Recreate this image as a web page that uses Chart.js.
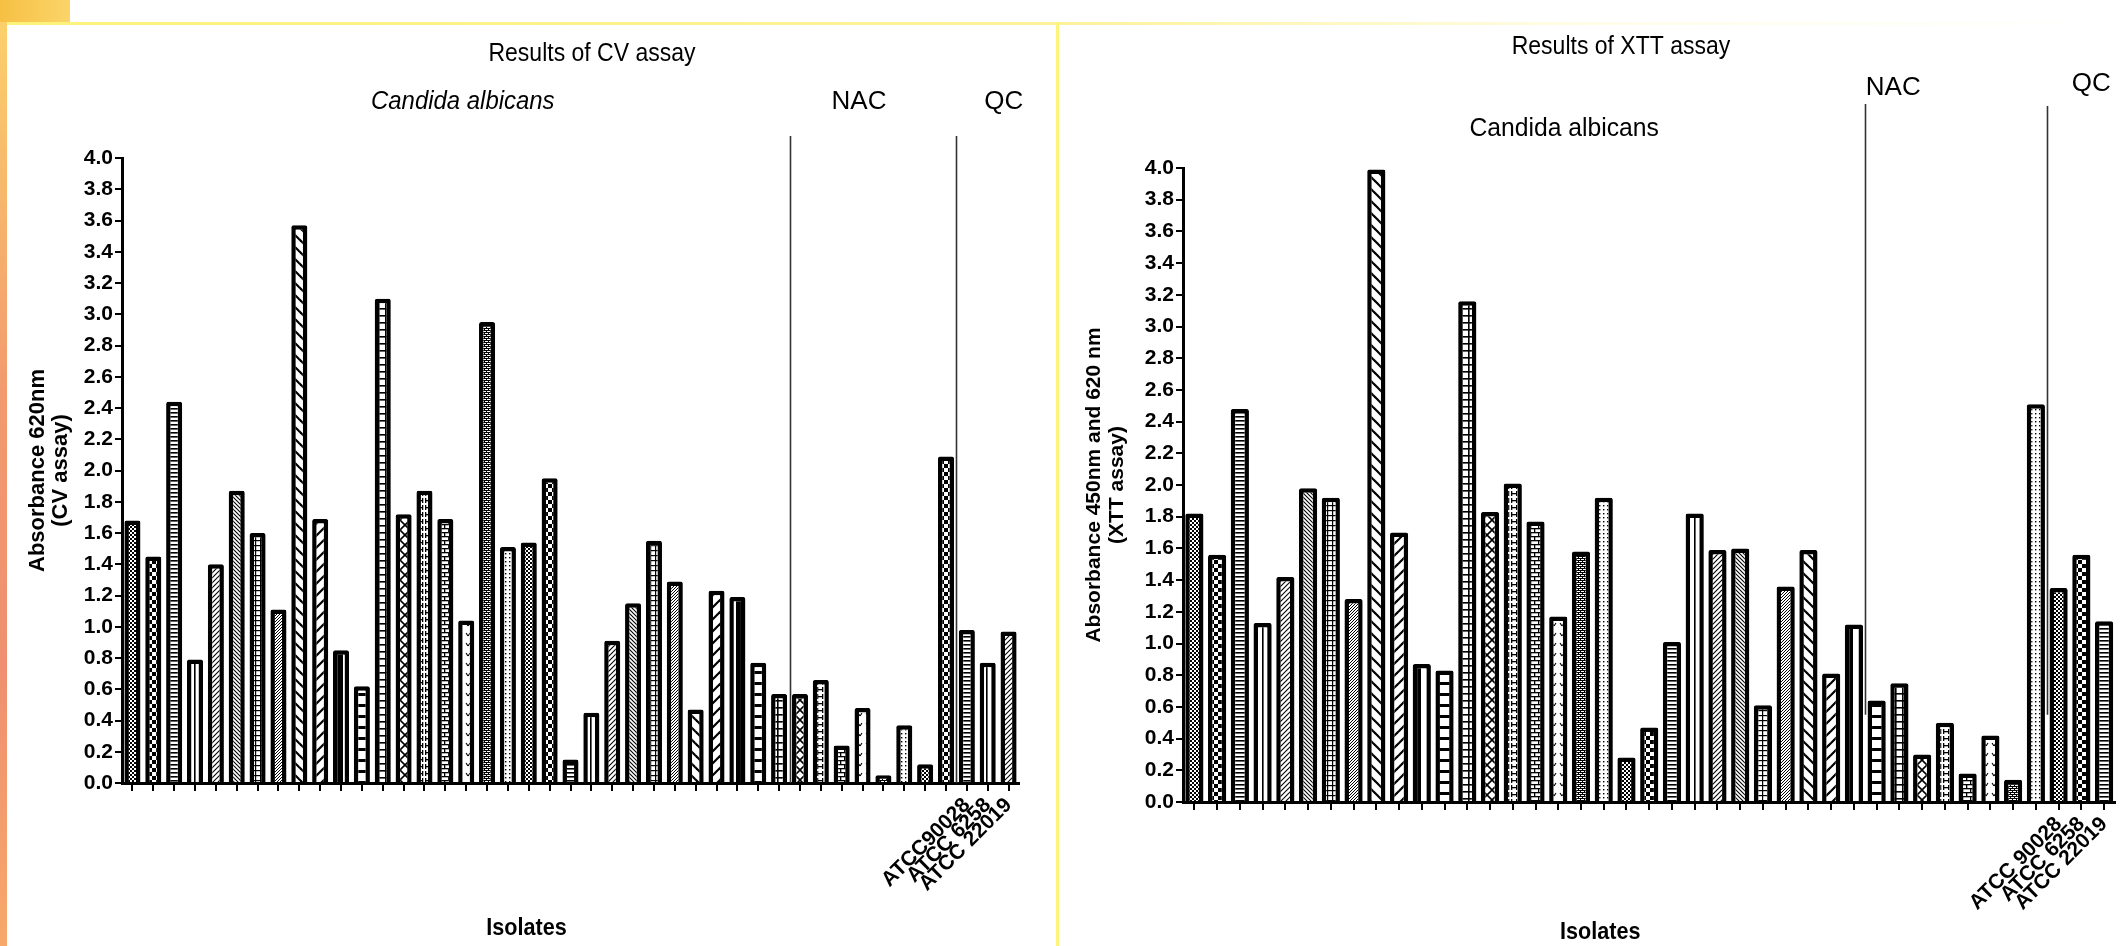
<!DOCTYPE html>
<html><head><meta charset="utf-8">
<script src="https://cdn.jsdelivr.net/npm/chart.js@4.4.1/dist/chart.umd.min.js"></script>
<style>
html,body{margin:0;padding:0;background:#fff;width:2124px;height:946px;overflow:hidden;}
#cvWrap{position:absolute;left:0;top:0;width:1056px;height:946px;}
#xttWrap{position:absolute;left:1062px;top:0;width:1062px;height:946px;}
.deco{position:absolute;}
</style></head><body>
<div class="deco" style="left:0;top:0;width:70px;height:23px;background:linear-gradient(90deg,#f6c043,#fbd46a);"></div>
<div class="deco" style="left:0;top:22px;width:2124px;height:3px;background:linear-gradient(90deg,#fff27a,#fdf29a 50%,#fffde8 75%,#fff);"></div>
<div class="deco" style="left:0;top:22px;width:7px;height:924px;background:linear-gradient(180deg,#fbd06a,#f29a6e 40%,#ef8f70 70%,#f7a86a);"></div>
<div class="deco" style="left:1056px;top:22px;width:3px;height:924px;background:#fdf47c;"></div>
<div id="cvWrap"><canvas id="cv"></canvas></div>
<div id="xttWrap"><canvas id="xtt"></canvas></div>
<script>
// ---------------- DATA ----------------
const cvCandida = [1.68,1.45,2.44,0.79,1.40,1.87,1.60,1.11,3.57,1.69,0.85,0.62,3.10,1.72,1.87,1.69,1.04,2.95,1.51,1.54,1.95,0.15,0.45,0.91,1.15,1.55,1.29,0.47,1.23,1.19,0.77,0.57];
const cvNAC = [0.57,0.66,0.24,0.48,0.05,0.37,0.12,2.09];
const cvQC = [0.98,0.77,0.97];
const cvQCLabels = ['ATCC90028','ATCC 6258','ATCC 22019'];

const xttCandida = [1.82,1.56,2.48,1.13,1.42,1.98,1.92,1.28,3.99,1.70,0.87,0.83,3.16,1.83,2.01,1.77,1.17,1.58,1.92,0.28,0.47,1.01,1.82,1.59,1.60,0.61,1.36,1.59,0.81,1.12];
const xttNAC = [0.64,0.75,0.30,0.50,0.18,0.42,0.14,2.51];
const xttQC = [1.35,1.56,1.14];
const xttQCLabels = ['ATCC 90028','ATCC 6258','ATCC 22019'];

const yTicks = ['0.0','0.2','0.4','0.6','0.8','1.0','1.2','1.4','1.6','1.8','2.0','2.2','2.4','2.6','2.8','3.0','3.2','3.4','3.6','3.8','4.0'];
const groupNames = ['Candida albicans','NAC','QC'];

// ---------------- PATTERNS ----------------
const SANS = '"Liberation Sans",Arial,sans-serif';

function tile(w,h,draw){
  const c=document.createElement('canvas'); c.width=w; c.height=h;
  const g=c.getContext('2d'); g.fillStyle='#fff'; g.fillRect(0,0,w,h);
  g.fillStyle='#000'; g.strokeStyle='#000'; draw(g,w,h); return c;
}
function line(g,x1,y1,x2,y2,lw){g.lineWidth=lw;g.beginPath();g.moveTo(x1,y1);g.lineTo(x2,y2);g.stroke();}
const patternTiles = [
  ()=>tile(4,4,g=>{g.fillRect(0,0,2,2);g.fillRect(2,2,2,2);}),                 // fine checker
  ()=>tile(8,8,g=>{g.fillRect(0,0,4,4);g.fillRect(4,4,4,4);}),                 // large checker
  ()=>tile(4,4,g=>{g.fillRect(0,0,4,1.6);}),                                   // horizontal lines
  ()=>tile(6,4,g=>{g.fillRect(2,0,1.6,4);}),                                   // vertical lines
  ()=>tile(5,5,g=>{line(g,-1,6,6,-1,1.1);line(g,-1,1,1,-1,1.1);line(g,4,6,6,4,1.1);}), // fine /
  ()=>tile(4,4,g=>{line(g,-1,-1,5,5,1.1);line(g,3,-1,5,1,1.1);line(g,-1,3,1,5,1.1);}), // fine \
  ()=>tile(5,5,g=>{g.fillRect(0,0,5,1.2);g.fillRect(0,0,1.2,5);}),             // small grid
  ()=>tile(3,3,g=>{line(g,-1,4,4,-1,1);}),                                     // dense diag
  ()=>tile(12,12,g=>{line(g,-2,-2,14,14,2.2);line(g,10,-2,14,2,2.2);line(g,-2,10,2,14,2.2);}), // wide \
  ()=>tile(12,12,g=>{line(g,-2,14,14,-2,2.2);line(g,-2,2,2,-2,2.2);line(g,10,14,14,10,2.2);}), // wide /
  ()=>tile(16,4,g=>{g.fillRect(0,0,7,4);}),                                    // wide vertical band
  ()=>tile(4,11,g=>{g.fillRect(0,0,4,3);}),                                    // wide horizontal
  ()=>tile(7,7,g=>{g.fillRect(0,0,7,1.6);g.fillRect(0,0,1.6,7);}),             // big grid
  ()=>tile(10,10,g=>{line(g,0,0,10,10,1.6);line(g,10,0,0,10,1.6);}),           // crosshatch
  ()=>tile(8,7,g=>{g.fillRect(1,1,1.3,5);g.fillRect(6,1,1.3,5);g.fillRect(1,3,6,1.3);}), // H
  ()=>tile(8,8,g=>{g.fillRect(0,0,8,1.3);g.fillRect(0,4,8,1.3);g.fillRect(0,0,1.3,4);g.fillRect(4,4,1.3,4);}), // brick
  ()=>tile(8,10,g=>{line(g,2,3,4,6,1.1);line(g,4,6,6,3,1.1);}),               // v marks
  ()=>tile(4,4,g=>{g.fillRect(0,0,4,1);g.fillRect(0,2,4,1);g.fillRect(0,0,1,2);g.fillRect(2,2,1,2);}), // small brick
  ()=>tile(4,4,g=>{g.fillRect(1,1,1.4,1.4);})                                  // fine dots
];

function drawText(ctx, text, x, y, font, sx){
  ctx.save(); ctx.translate(x,y); ctx.scale(sx||1,1); ctx.font=font; ctx.fillText(text,0,0); ctx.restore();
}

// ---------------- DECORATION PLUGIN ----------------
const deco = {
  id:'deco',
  afterDraw(chart, args, o){
    const {ctx, chartArea:a, scales:{x,y}} = chart;
    ctx.save();
    ctx.fillStyle='#000'; ctx.textAlign='center'; ctx.textBaseline='middle';
    drawText(ctx, o.title, o.titleX, o.titleY, o.titleFont, o.titleSx);
    const n1 = o.groupSizes[0], n2 = o.groupSizes[0]+o.groupSizes[1], n3 = n2+o.groupSizes[2];
    const b1 = (x.getPixelForValue(n1-1)+x.getPixelForValue(n1))/2;
    const b2 = (x.getPixelForValue(n2-1)+x.getPixelForValue(n2))/2;
    const yBot = y.getPixelForValue(o.lineBottomValue);
    ctx.strokeStyle = '#333'; ctx.lineWidth = 1.6;
    [[b1,o.lineTop[0]],[b2,o.lineTop[1]]].forEach(([bx,t])=>{
      ctx.beginPath(); ctx.moveTo(Math.round(bx)+0.5,t); ctx.lineTo(Math.round(bx)+0.5,yBot); ctx.stroke();
    });
    const centers = [
      (x.getPixelForValue(0)+x.getPixelForValue(n1-1))/2,
      (x.getPixelForValue(n1)+x.getPixelForValue(n2-1))/2,
      (x.getPixelForValue(n2)+x.getPixelForValue(n3-1))/2
    ];
    groupNames.forEach((t,i)=>{
      drawText(ctx, t, centers[i]+o.groupDx[i], o.groupY[i],
        (i===0 && o.italic ? 'italic ' : '') + o.groupFont, i===0 ? o.groupSx : 1);
    });
    drawText(ctx, 'Isolates', (a.left+a.right)/2 + o.xTitleDx, o.xTitleY, o.xTitleFont, 0.9);
    ctx.restore();
  }
};

function makeChart(id, cfg){
  const canvas = document.getElementById(id);
  const ctx = canvas.getContext('2d');
  const pats = patternTiles.map(f=>ctx.createPattern(f(),'repeat'));
  const values = cfg.candida.concat(cfg.nac, cfg.qc);
  const labels = cfg.candida.map(()=>'').concat(cfg.nac.map(()=>''), cfg.qcLabels);
  const bg = values.map((v,i)=>pats[i % pats.length]);
  return new Chart(ctx, {
    type:'bar',
    data:{labels, datasets:[{data:values, backgroundColor:bg, borderColor:'#000', borderWidth:4.5, borderRadius:2,
      barPercentage:cfg.barPct, categoryPercentage:1}]},
    options:{
      responsive:true, maintainAspectRatio:false, animation:false, events:[],
      layout:{padding:{left:0, top:cfg.top, right:cfg.right, bottom:0}},
      plugins:{legend:{display:false}, tooltip:{enabled:false}, deco:cfg.deco},
      scales:{
        x:{offset:true,
           grid:{display:true, drawOnChartArea:false, drawTicks:true, tickLength:8, color:'#000', lineWidth:2, offset:false},
           border:{display:true, color:'#000', width:3},
           ticks:{autoSkip:false, minRotation:45, maxRotation:45, color:'#000', padding:2,
                  font:{family:SANS, size:cfg.xLabelSize, weight:'bold'}},
           afterFit(s){ s.height = cfg.xH; }},
        y:{min:0, max:4,
           grid:{drawOnChartArea:false, drawTicks:true, tickLength:7, color:'#000', lineWidth:2},
           border:{display:true, color:'#000', width:3},
           ticks:{stepSize:0.2, color:'#000', padding:2, font:{family:SANS, size:cfg.yLabelSize, weight:'bold'},
                  callback:(v,i)=>yTicks[i]},
           title:{display:true, text:cfg.yTitle, color:'#000', font:{family:SANS, size:cfg.yTitleSize, weight:'bold', lineHeight:cfg.yTitleLH}, padding:{top:cfg.yTitlePad, bottom:0}},
           afterFit(s){ s.width = cfg.yW; }}
      }
    },
    plugins:[deco]
  });
}

makeChart('cv', {
  candida:cvCandida, nac:cvNAC, qc:cvQC, qcLabels:cvQCLabels,
  barPct:0.77, top:158, right:1056-1019, xH:946-783, yW:122,
  xLabelSize:21, yLabelSize:21, yTitleSize:22, yTitleLH:1.05, yTitlePad:26,
  yTitle:['Absorbance 620nm','(CV assay)'],
  deco:{title:'Results of CV assay', titleFont:'25px '+SANS, titleSx:0.92, titleX:592, titleY:54,
        groupSizes:[cvCandida.length, cvNAC.length, cvQC.length], groupFont:'26px '+SANS, italic:true, groupSx:0.92,
        groupDx:[7,-14,16], groupY:[102,102,102], lineTop:[136,136], lineBottomValue:0,
        xTitleFont:'bold 24px '+SANS, xTitleDx:-44, xTitleY:928}
});
makeChart('xtt', {
  candida:xttCandida, nac:xttNAC, qc:xttQC, qcLabels:xttQCLabels,
  barPct:0.8, top:168, right:1062-1055, xH:946-802, yW:121,
  xLabelSize:21, yLabelSize:21, yTitleSize:21, yTitleLH:1.1, yTitlePad:21,
  yTitle:['Absorbance 450nm and 620 nm','(XTT assay)'],
  deco:{title:'Results of XTT assay', titleFont:'25px '+SANS, titleSx:0.92, titleX:1621-1062, titleY:47,
        groupSizes:[xttCandida.length, xttNAC.length, xttQC.length], groupFont:'26px '+SANS, italic:false, groupSx:0.95,
        groupDx:[40,-63,10], groupY:[129,88,84], lineTop:[104,106], lineBottomValue:0.55,
        xTitleFont:'bold 24px '+SANS, xTitleDx:-49, xTitleY:932}
});
</script>
</body></html>
